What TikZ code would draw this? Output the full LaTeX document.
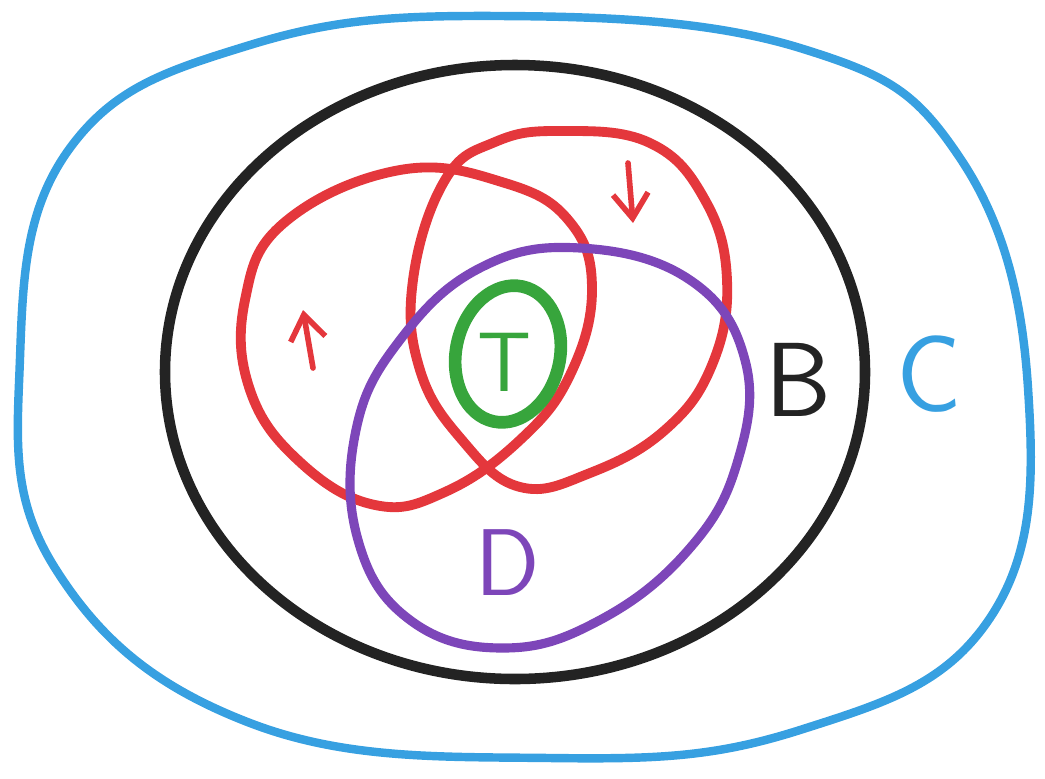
\documentclass[tikz,border=0pt]{standalone}
\usepackage{tikz}
\usetikzlibrary{arrows.meta}
\definecolor{setblue}{RGB}{55,160,225}
\definecolor{setred}{RGB}{228,55,60}
\definecolor{setpurple}{RGB}{125,70,185}
\definecolor{setgreen}{RGB}{55,165,60}
\definecolor{setblack}{RGB}{35,35,35}

\begin{document}
\begin{tikzpicture}[>={Straight Barb[length=7pt,width=10pt]},
  setlabel/.style={font=\sffamily\fontsize{#1}{#1}\selectfont, inner sep=1pt},
  setlabel/.default=30,
  line cap=round, line join=round]
  \useasboundingbox (0,0) rectangle (10.45,7.78);
  % outer set C
  \draw[setblue, line width=2.4pt] plot[smooth cycle, tension=0.7] coordinates {
    (5.00,7.62) (8.00,7.30) (9.60,6.20) (10.28,3.90) (9.90,1.60) (8.00,0.48)
    (5.50,0.20) (2.50,0.55) (0.55,2.10) (0.20,4.20) (0.70,6.30) (2.50,7.33)};
  % set B
  \draw[setblack, line width=3pt] (5.15,4.06) ellipse [x radius=3.50, y radius=3.07];
  % left red set
  \draw[setred, line width=2.8pt] plot[smooth cycle, tension=0.7] coordinates {
    (4.00,6.08) (5.05,5.95) (5.70,5.56) (5.92,4.88) (5.70,4.03) (5.20,3.38)
    (4.45,2.86) (3.75,2.73) (3.00,3.16) (2.50,3.88) (2.45,4.78) (2.85,5.56)};
  % right red set
  \draw[setred, line width=2.8pt] plot[smooth cycle, tension=0.7] coordinates {
    (5.60,6.47) (6.50,6.35) (7.05,5.78) (7.27,4.98) (7.12,4.13) (6.65,3.48)
    (5.90,3.05) (5.20,2.91) (4.62,3.38) (4.20,4.08) (4.13,4.98) (4.45,5.98)
    (4.95,6.36)};
  % set D
  \draw[setpurple, line width=2.6pt] plot[smooth cycle, tension=0.7] coordinates {
    (5.80,5.30) (6.90,4.98) (7.45,4.18) (7.38,3.18) (6.90,2.30) (6.00,1.58)
    (5.03,1.30) (4.10,1.58) (3.58,2.38) (3.56,3.48) (4.00,4.38) (4.80,5.10)};
  % set T
  \draw[setgreen, line width=3.6pt] (5.08,4.24) ellipse [x radius=0.52, y radius=0.69, rotate=-12];
  % labels
  \node[setlabel=24, setgreen] (T) at (5.05,4.16) {T};
  \node[setlabel, setblack] (B) at (7.98,3.98) {B};
  \node[setlabel=31, setblue] (C) at (9.29,4.04) {C};
  \node[setlabel=27, setpurple] (D) at (5.08,2.15) {D};
  % arrows inside the red sets
  \draw[->, setred, line width=1.6pt] (3.13,4.10) -- (3.03,4.68);
  \draw[->, setred, line width=1.6pt] (6.28,6.15) -- (6.33,5.55);
\end{tikzpicture}
\end{document}
